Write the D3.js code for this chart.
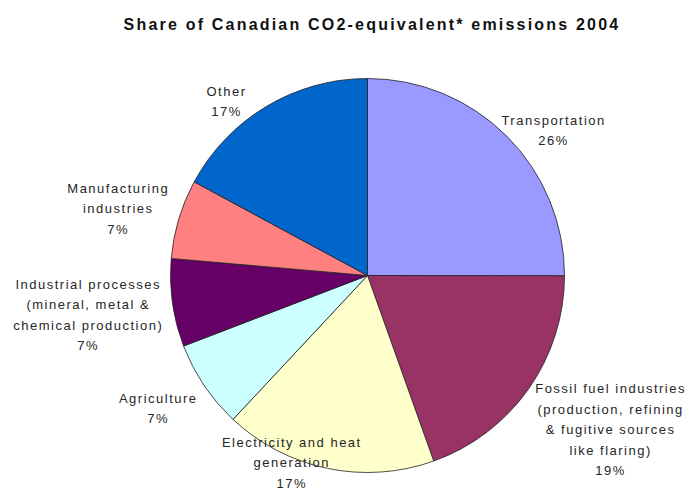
<!DOCTYPE html>
<html>
<head>
<meta charset="utf-8">
<script src="https://cdn.jsdelivr.net/npm/d3@7"></script>
<style>
  html, body { margin: 0; padding: 0; background: #fff; }
  svg { display: block; }
</style>
</head>
<body>
<svg id="chart" width="685" height="492"></svg>
<script>
// ---- data ----
const categories = [
  "Transportation",
  "Fossil fuel industries",
  "Electricity and heat generation",
  "Agriculture",
  "Industrial processes",
  "Manufacturing industries",
  "Other"
];
const values = [25.0, 19.5, 17.4, 7.2, 7.2, 6.5, 17.1];
const percentLabels = ["26%", "19%", "17%", "7%", "7%", "7%", "17%"];
const labelLines = [
  ["Transportation"],
  ["Fossil fuel industries", "(production, refining", "& fugitive sources", "like flaring)"],
  ["Electricity and heat", "generation"],
  ["Agriculture"],
  ["Industrial processes", "(mineral, metal &", "chemical production)"],
  ["Manufacturing", "industries"],
  ["Other"]
];
const colors = ["#9999FF", "#993366", "#FFFFCC", "#CCFFFF", "#660066", "#FF8080", "#0066CC"];
const title = "Share of Canadian CO2-equivalent* emissions 2004";

// ---- layout (label placement: angular nudge in degrees, distance in px) ----
const labelLayout = [
  { da: 7, d: 236 },
  { da: -2.8, d: 288 },
  { da: 10.3, d: 202 },
  { da: 1.5, d: 248 },
  { da: 0, d: 282 },
  { da: -1.7, d: 258 },
  { da: -8.2, d: 224 }
];

const svg = d3.select("#chart");
const cx = 367.5, cy = 275.5, R = 197;

svg.append("text")
  .attr("x", 372).attr("y", 30)
  .attr("text-anchor", "middle")
  .attr("font-family", "Liberation Sans, Arial, sans-serif")
  .attr("font-weight", "bold")
  .attr("font-size", 16)
  .attr("letter-spacing", 2.2)
  .attr("fill", "#111")
  .text(title);

const pie = d3.pie().sort(null).value(d => d).startAngle(0).endAngle(2 * Math.PI);
const arcs = pie(values);
const arc = d3.arc().innerRadius(0).outerRadius(R);

const g = svg.append("g").attr("transform", `translate(${cx},${cy})`);

g.selectAll("path.slice")
  .data(arcs)
  .enter().append("path")
  .attr("class", "slice")
  .attr("d", arc)
  .attr("fill", (d, i) => colors[i])
  .attr("stroke", "#222")
  .attr("stroke-width", 0.8)
  .attr("stroke-linejoin", "round");

const lineH = 20.5;
const lg = g.append("g")
  .attr("font-family", "Liberation Sans, Arial, sans-serif")
  .attr("font-size", 13)
  .attr("letter-spacing", 1.5)
  .attr("fill", "#262626")
  .attr("text-anchor", "middle");

arcs.forEach((a, i) => {
  const mid = (a.startAngle + a.endAngle) / 2 + labelLayout[i].da * Math.PI / 180;
  const d = labelLayout[i].d;
  const x = Math.sin(mid) * d;
  const y = -Math.cos(mid) * d;
  const lines = labelLines[i].concat([percentLabels[i]]);
  const n = lines.length;
  const t = lg.append("text").attr("x", x).attr("y", y);
  lines.forEach((ln, k) => {
    t.append("tspan")
      .attr("x", x)
      .attr("y", y + (k - (n - 1) / 2) * lineH + 4.5)
      .text(ln);
  });
});
</script>
</body>
</html>
